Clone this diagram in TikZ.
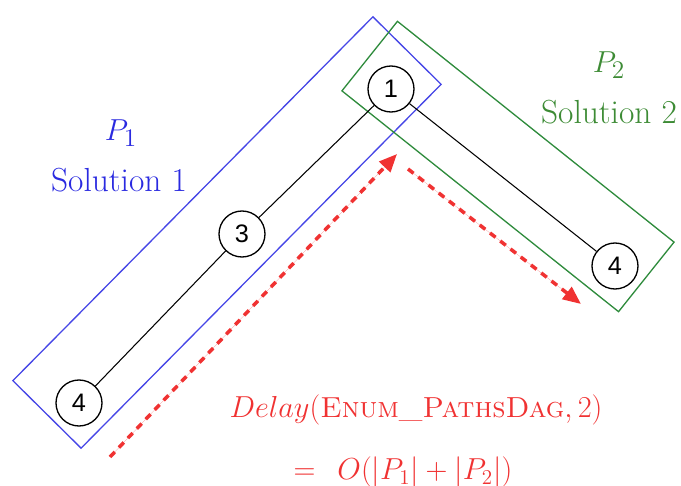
\documentclass[tikz,border=0pt]{standalone}
\usepackage{fontspec}
\usepackage{xcolor}
\usetikzlibrary{arrows.meta}
\newfontfamily\numfont{Liberation Sans}
\definecolor{pathblue}{HTML}{4646E6}
\definecolor{pathgreen}{HTML}{2E8B3C}
\definecolor{textblue}{HTML}{2A2AE0}
\definecolor{textgreen}{HTML}{3D8B35}
\definecolor{delayred}{HTML}{F03232}

\begin{document}
\begin{tikzpicture}[
    x=0.02cm, y=-0.02cm,
    vertex/.style={circle, draw=black, fill=white, line width=0.75pt, minimum size=0.92cm, inner sep=0pt, font=\numfont\Large},
    edge/.style={draw=black, line width=0.6pt},
    pathbox/.style={rectangle, draw=#1, line width=0.75pt, inner sep=0pt},
    pathlabel/.style={text=#1, font=\fontsize{19}{23}\selectfont, inner sep=0pt},
    costlabel/.style={text=delayred, font=\fontsize{#1}{20}\selectfont, inner sep=0pt},
    delay/.style={-{Triangle[length=3.6mm, width=3mm]}, draw=delayred, fill=delayred, line width=2pt, dash pattern=on 4pt off 3.4pt}
]
\useasboundingbox (0,0) rectangle (681,486);

% solution boxes
\node[pathbox=pathblue, rotate=45.3, minimum width=10.24cm, minimum height=1.92cm] (box1) at (227,232.5) {};
\node[pathbox=pathgreen, rotate=-38.6, minimum width=7.08cm, minimum height=1.78cm] (box2) at (508,166.5) {};

% paths
\node[vertex] (v1) at (391,89) {1};
\node[vertex] (v3) at (242,234) {3};
\node[vertex] (v4a) at (79,403) {4};
\node[vertex] (v4b) at (615,266) {4};

\draw[edge] (v4a) -- (v3);
\draw[edge] (v3) -- (v1);
\draw[edge] (v1) -- (v4b);

% labels
\node[pathlabel=textblue] (p1) at (121,133) {$P_1$};
\node[pathlabel=textblue] (sol1) at (119,180) {Solution 1};
\node[pathlabel=textgreen] (p2) at (609,65) {$P_2$};
\node[pathlabel=textgreen] (sol2) at (609,112) {Solution 2};

% enumeration order
\coordinate (d1s) at (110,457);
\coordinate (d1e) at (397,154);
\coordinate (d2s) at (408,169);
\coordinate (d2e) at (581,304);
\draw[delay] (d1s) -- (d1e);
\draw[delay] (d2s) -- (d2e);

\node[costlabel=16.5] (cost) at (416,410) {$Delay(\textsc{Enum\_PathsDag}, 2)$};
\node[costlabel=17.28] (bound) at (403,472) {$=\;\,O(|P_1|+|P_2|)$};
\end{tikzpicture}
\end{document}
